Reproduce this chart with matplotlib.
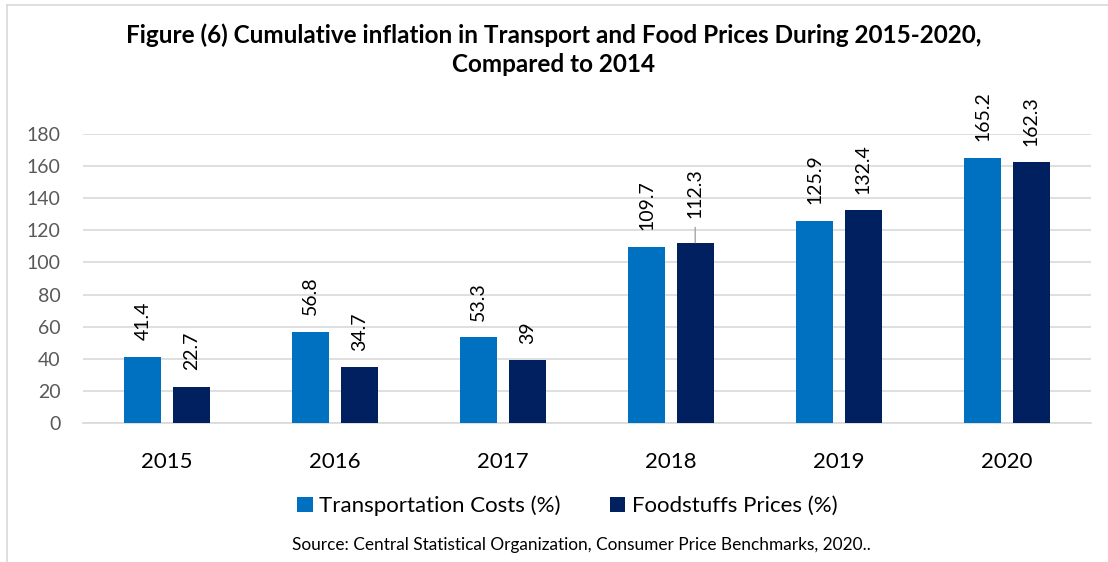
import matplotlib.pyplot as plt
import matplotlib.lines as mlines
import numpy as np

years = ['2015', '2016', '2017', '2018', '2019', '2020']
transport = [41.4, 56.8, 53.3, 109.7, 125.9, 165.2]
food = [22.7, 34.7, 39, 112.3, 132.4, 162.3]
transport_lbl = ['41.4', '56.8', '53.3', '109.7', '125.9', '165.2']
food_lbl = ['22.7', '34.7', '39', '112.3', '132.4', '162.3']

plt.rcParams['font.family'] = ['Lato', 'DejaVu Sans']

c_trans = '#0070C0'
c_food = '#002060'

fig = plt.figure(figsize=(11.08, 5.62), dpi=100)
ax = fig.add_axes([0.0749, 0.2473, 0.9098, 0.5143])

x = np.arange(len(years))
w = 0.22
off = 0.144
ax.bar(x - off, transport, w, color=c_trans, label='Transportation Costs (%)', zorder=3)
ax.bar(x + off, food, w, color=c_food, label='Foodstuffs Prices (%)', zorder=3)

for i in range(len(years)):
    ax.annotate(transport_lbl[i], (x[i] - off, transport[i]), xytext=(0, 12),
                textcoords='offset points', rotation=90, ha='center', va='bottom',
                fontsize=14, color='#000000', annotation_clip=False)
    if food_lbl[i] == '112.3':
        # this one sits a bit higher with a leader line
        ax.annotate(food_lbl[i], (x[i] + off, food[i]), xytext=(0, 18),
                    textcoords='offset points', rotation=90, ha='center', va='bottom',
                    fontsize=14, color='#000000', annotation_clip=False,
                    arrowprops=dict(arrowstyle='-', color='#A6A6A6', lw=1,
                                    shrinkA=5, shrinkB=0))
    else:
        ax.annotate(food_lbl[i], (x[i] + off, food[i]), xytext=(0, 12),
                    textcoords='offset points', rotation=90, ha='center', va='bottom',
                    fontsize=14, color='#000000', annotation_clip=False)

ax.set_xlim(-0.5, len(years) - 0.5)
ax.set_ylim(0, 180)
ax.set_yticks(np.arange(0, 181, 20))
ax.set_xticks(x)
ax.set_xticklabels(years, fontsize=16, color='#000000')
ax.tick_params(axis='y', labelsize=14, labelcolor='#595959', length=0, pad=16)
ax.tick_params(axis='x', length=0, pad=21)
ax.grid(axis='y', color='#D9D9D9', linewidth=1.2, zorder=0)
for s in ['top', 'right', 'left']:
    ax.spines[s].set_visible(False)
ax.spines['bottom'].set_color('#D9D9D9')
ax.spines['bottom'].set_linewidth(1.2)

fig.text(0.5, 0.937, 'Figure (6) Cumulative inflation in Transport and Food Prices During 2015-2020,',
         ha='center', va='center', fontsize=17.5, fontweight='bold')
fig.text(0.5, 0.886, 'Compared to 2014', ha='center', va='center', fontsize=17.5, fontweight='bold')

fig.legend(loc='center', bbox_to_anchor=(0.512, 0.1), ncol=2, frameon=False, fontsize=16,
           handlelength=0.7, handleheight=0.7, handletextpad=0.3, columnspacing=2.2)

fig.text(0.525, 0.03, 'Source: Central Statistical Organization, Consumer Price Benchmarks, 2020..',
         ha='center', va='center', fontsize=12.4)

# outer frame lines (top and left)
fig.add_artist(mlines.Line2D([7 / 1108, 1], [1 - 5 / 562, 1 - 5 / 562], color='#D9D9D9', lw=1.2))
fig.add_artist(mlines.Line2D([7 / 1108, 7 / 1108], [0, 1 - 5 / 562], color='#D9D9D9', lw=1.2))

plt.savefig('out.png', dpi=100)
